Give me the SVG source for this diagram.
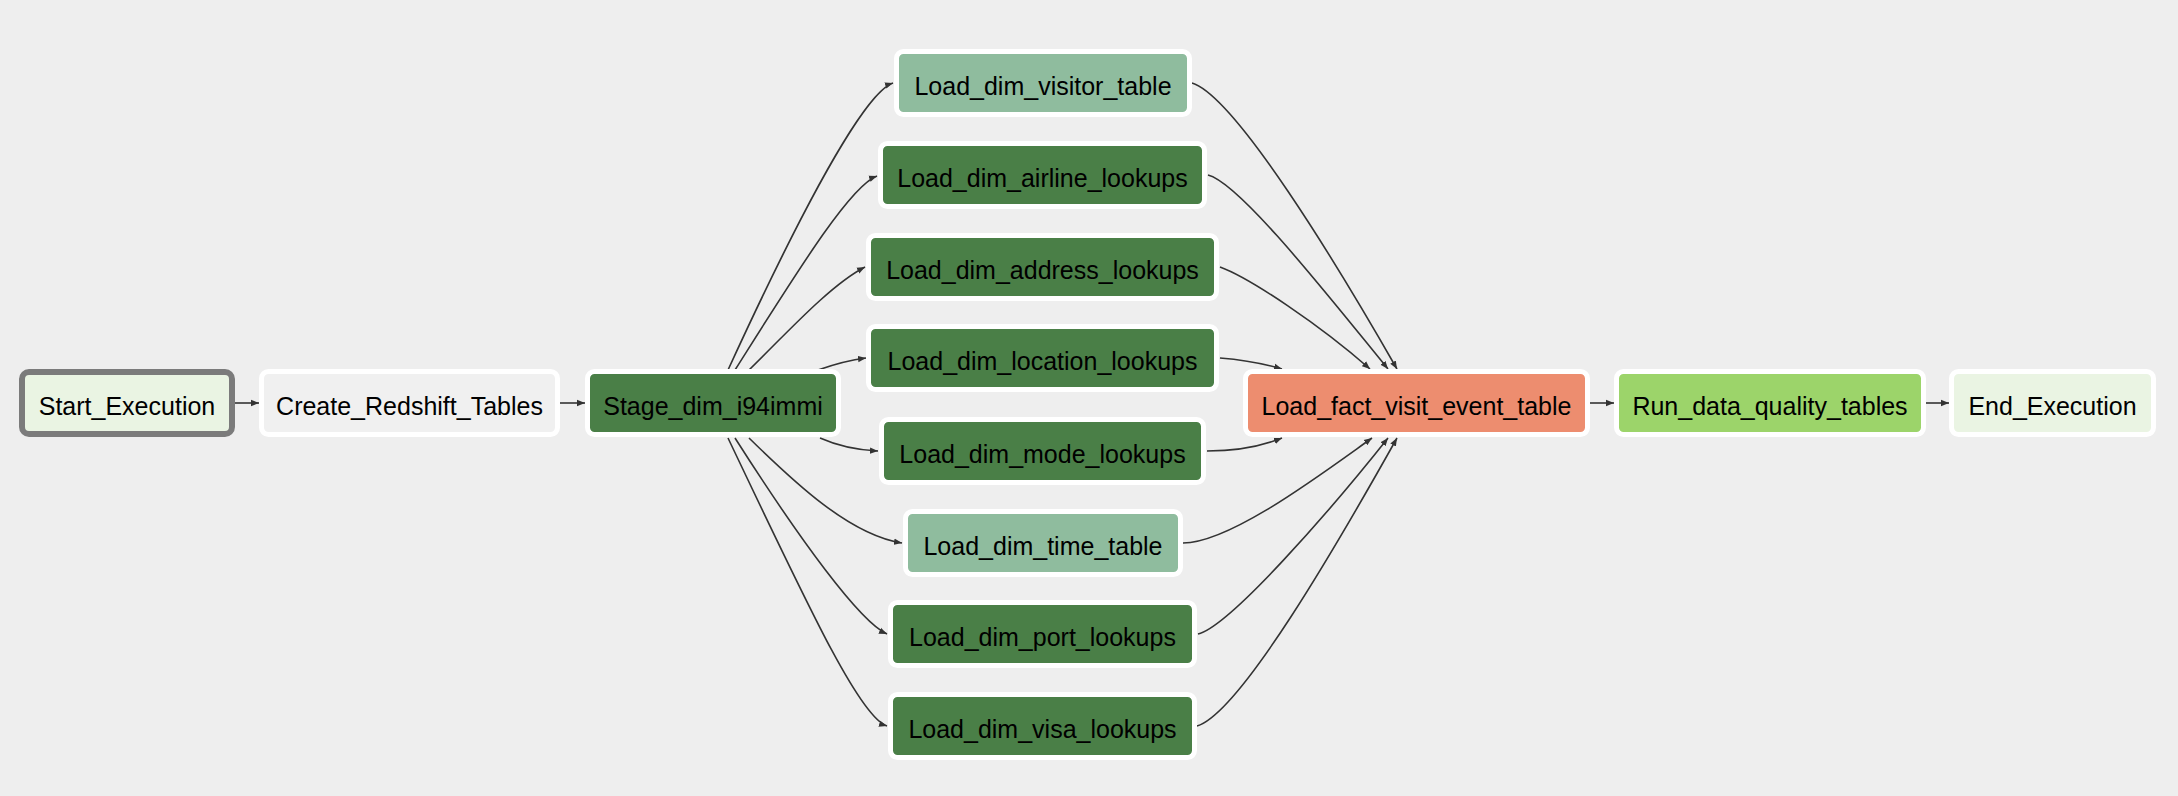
<svg xmlns="http://www.w3.org/2000/svg" width="2178" height="796" viewBox="0 0 2178 796">
<style>
.node rect{stroke:#ffffff;stroke-width:5}
.node text{font-family:"Liberation Sans",Arial,Helvetica,sans-serif;font-size:25px;fill:#000;text-anchor:middle}
.edges path{fill:none;stroke:#333;stroke-width:1.6}
.dark rect{fill:#4a7f47}
.light rect{fill:#8fbc9e}
</style>
<defs>
<marker id="arr" viewBox="0 0 10 10" refX="10" refY="5" markerWidth="8" markerHeight="8" markerUnits="userSpaceOnUse" orient="auto"><path d="M0,1 L10,5 L0,9 z" fill="#333"/></marker>
</defs>
<rect x="0" y="0" width="2178" height="796" fill="#eeeeee"/>
<g class="edges" marker-end="url(#arr)">
<path d="M235,403 L259,403"/>
<path d="M560,403 L585,403"/>
<path d="M1590,403 L1614,403"/>
<path d="M1926,403 L1949,403"/>
<path d="M728,370 C806,200 866,92 893,83"/>
<path d="M735,370 C797,272 850,186 877,176"/>
<path d="M749,370 C785,335 830,285 865,267"/>
<path d="M818,370 C835,364 850,360 866,358"/>
<path d="M820,438 C838,446 855,450 878,451"/>
<path d="M749,438 C795,483 850,535 902,543"/>
<path d="M735,438 C800,540 860,622 887,634"/>
<path d="M728,438 C808,606 860,718 887,726"/>
<path d="M1192,83 C1235,96 1337,264 1397,369"/>
<path d="M1208,175 C1240,183 1330,298 1388,369"/>
<path d="M1220,267 C1250,278 1320,325 1370,369"/>
<path d="M1220,358 C1245,360 1265,364 1282,369"/>
<path d="M1207,451 C1240,451 1262,446 1282,438"/>
<path d="M1183,543 C1230,543 1320,475 1372,438"/>
<path d="M1198,634 C1230,626 1330,511 1388,438"/>
<path d="M1197,726 C1240,713 1337,545 1397,438"/>
</g>
<g id="Start_Execution" class="node"><rect x="22" y="372" width="210" height="62" rx="7" fill="#eaf4e3" style="stroke:#7b7b7b;stroke-width:6"/><text x="127" y="415">Start_Execution</text></g>
<g id="Create_Redshift_Tables" class="node"><rect x="261.5" y="371.5" width="296" height="63" rx="7" fill="#f0f0f0"/><text x="409.5" y="415">Create_Redshift_Tables</text></g>
<g id="Stage_dim_i94immi" class="node dark"><rect x="587.5" y="371.5" width="251" height="63" rx="7"/><text x="713" y="415">Stage_dim_i94immi</text></g>
<g id="Load_dim_visitor_table" class="node light"><rect x="896.5" y="51.5" width="293" height="63" rx="7"/><text x="1043" y="95">Load_dim_visitor_table</text></g>
<g id="Load_dim_airline_lookups" class="node dark"><rect x="880.5" y="143.5" width="324" height="63" rx="7"/><text x="1042.5" y="187">Load_dim_airline_lookups</text></g>
<g id="Load_dim_address_lookups" class="node dark"><rect x="868.5" y="235.5" width="348" height="63" rx="7"/><text x="1042.5" y="279">Load_dim_address_lookups</text></g>
<g id="Load_dim_location_lookups" class="node dark"><rect x="868.5" y="326.5" width="348" height="63" rx="7"/><text x="1042.5" y="370">Load_dim_location_lookups</text></g>
<g id="Load_dim_mode_lookups" class="node dark"><rect x="881.5" y="419.5" width="322" height="63" rx="7"/><text x="1042.5" y="463">Load_dim_mode_lookups</text></g>
<g id="Load_dim_time_table" class="node light"><rect x="905.5" y="511.5" width="275" height="63" rx="7"/><text x="1043" y="555">Load_dim_time_table</text></g>
<g id="Load_dim_port_lookups" class="node dark"><rect x="890.5" y="602.5" width="304" height="63" rx="7"/><text x="1042.5" y="646">Load_dim_port_lookups</text></g>
<g id="Load_dim_visa_lookups" class="node dark"><rect x="890.5" y="694.5" width="304" height="63" rx="7"/><text x="1042.5" y="738">Load_dim_visa_lookups</text></g>
<g id="Load_fact_visit_event_table" class="node"><rect x="1245.5" y="371.5" width="342" height="63" rx="7" fill="#ed8d6f"/><text x="1416.5" y="415">Load_fact_visit_event_table</text></g>
<g id="Run_data_quality_tables" class="node"><rect x="1616.5" y="371.5" width="307" height="63" rx="7" fill="#9cd46a"/><text x="1770" y="415">Run_data_quality_tables</text></g>
<g id="End_Execution" class="node"><rect x="1951.5" y="371.5" width="202" height="63" rx="7" fill="#eaf4e3"/><text x="2052.5" y="415">End_Execution</text></g>
</svg>
